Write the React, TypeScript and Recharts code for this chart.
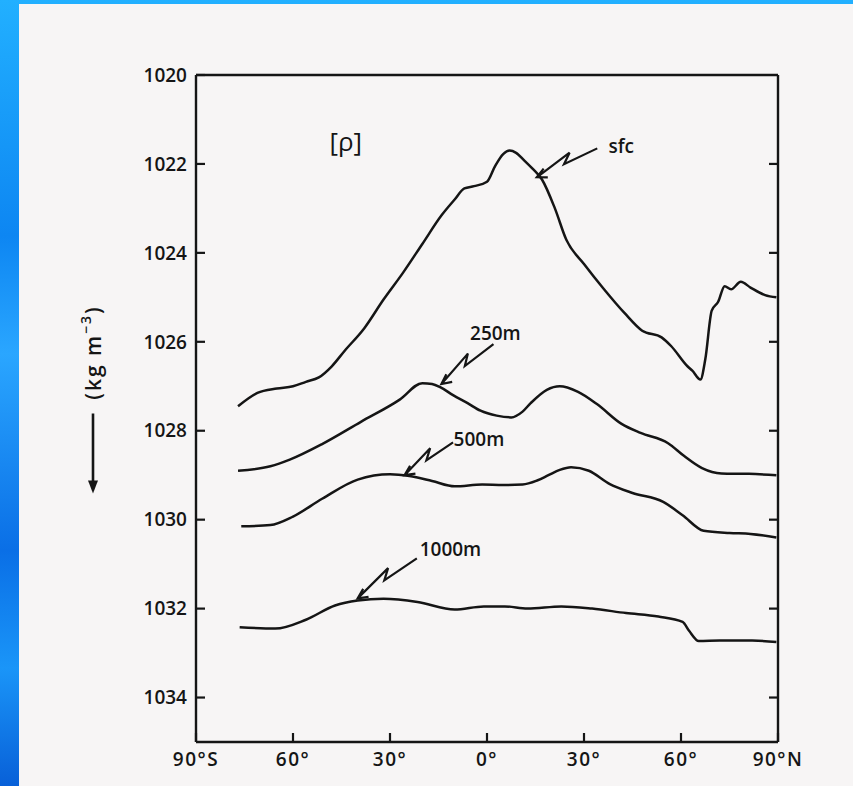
import React from "react";
import {
  LineChart,
  Line,
  XAxis,
  YAxis,
  ReferenceDot,
  ReferenceLine,
  Label,
} from "recharts";

// zonal-mean density [rho] (kg m^-3) against latitude
const sfcLat = [-77, -71, -65, -60, -56, -52, -48, -44, -38, -32, -26, -20, -14, -10, -7, -4, 0, 2.5, 5, 7, 9, 11.5, 14, 17, 21, 24.5, 30, 36, 42.5, 48, 54, 57, 62, 63.5, 66, 67.5, 69.5, 71.5, 73.5, 75.5, 78.5, 81.5, 86, 89.5];
const sfcRho = [1027.45, 1027.15, 1027.05, 1027.0, 1026.9, 1026.8, 1026.55, 1026.2, 1025.7, 1025.05, 1024.45, 1023.8, 1023.15, 1022.8, 1022.55, 1022.5, 1022.4, 1022.05, 1021.78, 1021.7, 1021.75, 1021.92, 1022.1, 1022.35, 1023.0, 1023.7, 1024.25, 1024.8, 1025.35, 1025.75, 1025.9, 1026.1, 1026.55, 1026.65, 1026.85, 1026.4, 1025.3, 1025.1, 1024.75, 1024.82, 1024.65, 1024.78, 1024.95, 1025.0];

const m250Lat = [-77, -67, -61, -51, -39, -27, -20, -17, -14.5, -10.5, -6, -2, 3, 7.5, 11, 13.5, 18.5, 22.5, 28, 34, 41.5, 47.5, 56, 61, 66.5, 72.5, 81, 89.5];
const m250Rho = [1028.9, 1028.8, 1028.65, 1028.3, 1027.8, 1027.3, 1026.93, 1026.95, 1027.02, 1027.2, 1027.38, 1027.55, 1027.66, 1027.7, 1027.57, 1027.38, 1027.08, 1027.0, 1027.12, 1027.4, 1027.84, 1028.05, 1028.28, 1028.57, 1028.84, 1028.96, 1028.97, 1029.0];

const m500Lat = [-76, -67, -60, -51, -40, -30, -24, -17, -10, -1.5, 5, 11, 15.5, 19, 22.5, 26, 31.5, 38, 45, 54.5, 60.5, 67, 75, 81.5, 89.5];
const m500Rho = [1030.15, 1030.12, 1029.93, 1029.53, 1029.1, 1028.98, 1029.02, 1029.13, 1029.25, 1029.21, 1029.22, 1029.21, 1029.12, 1029.0, 1028.88, 1028.82, 1028.9, 1029.2, 1029.4, 1029.6, 1029.9, 1030.25, 1030.3, 1030.32, 1030.4];

const m1000Lat = [-76.5, -65.5, -56, -47, -40, -32, -21.5, -10, -1, 5.5, 12.5, 23, 32.5, 43, 53, 60.5, 62.5, 65.5, 72, 82, 89.5];
const m1000Rho = [1032.42, 1032.45, 1032.25, 1031.93, 1031.82, 1031.78, 1031.85, 1032.02, 1031.95, 1031.95, 1032.0, 1031.95, 1032.0, 1032.1, 1032.18, 1032.3, 1032.5, 1032.73, 1032.72, 1032.72, 1032.75];

const latTicks = [-90, -60, -30, 0, 30, 60, 90];
const latTickLabels = ["90°S", "60°", "30°", "0°", "30°", "60°", "90°N"];
const topTicks = [-60, -30, 0, 30, 60];
const rhoTicks = [1020, 1022, 1024, 1026, 1028, 1030, 1032, 1034];
const rightTicks = [1022, 1024, 1026, 1028, 1030, 1032, 1034];

// curve labels: text centre, arrow tail, arrow tip (lat, rho)
const labelNames = ["sfc", "250m", "500m", "1000m"];
const labelLat = [41.5, 2.6, -2.5, -11.3];
const labelRho = [1021.6, 1025.8, 1028.2, 1030.67];
const tailLat = [34.1, 2.0, -10.5, -21.7];
const tailRho = [1021.65, 1026.05, 1028.26, 1030.87];
const tipLat = [15.4, -14.1, -25.5, -40.0];
const tipRho = [1022.3, 1026.95, 1029.0, 1031.77];

const FONT = "'Open Sans', 'DejaVu Sans', sans-serif";
const INK = "#151515";

const toRows = (lat: number[], rho: number[]) =>
  lat.map((x, i) => ({ lat: x, rho: rho[i] }));

const series = [
  { name: "sfc", data: toRows(sfcLat, sfcRho) },
  { name: "250m", data: toRows(m250Lat, m250Rho) },
  { name: "500m", data: toRows(m500Lat, m500Rho) },
  { name: "1000m", data: toRows(m1000Lat, m1000Rho) },
];

// lightning-style arrow from tail (x1,y1) to tip (x2,y2)
function ZigArrow(props: any) {
  const { x1, y1, x2, y2 } = props;
  if (x1 == null || x2 == null) return null;
  const dx = x2 - x1;
  const dy = y2 - y1;
  const len = Math.hypot(dx, dy);
  const ux = dx / len;
  const uy = dy / len;
  const nx = -uy;
  const ny = ux;
  const ax = x1 + ux * len * 0.55;
  const ay = y1 + uy * len * 0.55;
  const bx = ax - ux * 10 + nx * 8;
  const by = ay - uy * 10 + ny * 8;
  const ang = 0.45;
  const h = 11;
  const c = Math.cos(ang);
  const s = Math.sin(ang);
  const h1x = x2 - h * (ux * c - uy * s);
  const h1y = y2 - h * (uy * c + ux * s);
  const h2x = x2 - h * (ux * c + uy * s);
  const h2y = y2 - h * (uy * c - ux * s);
  return (
    <path
      d={`M${x1},${y1}L${ax},${ay}L${bx},${by}L${x2},${y2}M${h1x},${h1y}L${x2},${y2}L${h2x},${h2y}`}
      fill="none"
      stroke={INK}
      strokeWidth={2.2}
      strokeLinejoin="miter"
    />
  );
}

function YUnitLabel(props: any) {
  const vb = props.viewBox || { x: 136, y: 75, width: 60, height: 667 };
  const x = vb.x - 43;
  const cy = vb.y + vb.height / 2;
  const ty = cy - 56;
  return (
    <g>
      <text
        x={x}
        y={ty}
        transform={`rotate(-90, ${x}, ${ty})`}
        textAnchor="middle"
        dominantBaseline="central"
        fontFamily={FONT}
        fontSize={21}
        fontWeight={600}
        letterSpacing={2}
        fill={INK}
      >
        (kg m
        <tspan dy={-8} fontSize={14}>
          −3
        </tspan>
        <tspan dy={8}>)</tspan>
      </text>
      <line x1={x} y1={cy + 5} x2={x} y2={cy + 74} stroke={INK} strokeWidth={2.6} />
      <path d={`M${x - 5},${cy + 72}L${x},${cy + 85}L${x + 5},${cy + 72}Z`} fill={INK} />
    </g>
  );
}

const tickText = { fill: INK, fontSize: 19, fontFamily: FONT, fontWeight: 600 };
const blank = () => "";

export default function App() {
  return (
    <div
      style={{
        position: "absolute",
        left: 0,
        top: 0,
        width: 853,
        height: 786,
        overflow: "hidden",
        background:
          "linear-gradient(180deg, #22b0ff 0%, #0d86f2 30%, #2aa6ff 45%, #0a6fe6 70%, #1a95f8 85%, #0860d8 100%)",
      }}
    >
      <div
        style={{
          position: "absolute",
          left: 19,
          top: 4,
          right: 0,
          bottom: 0,
          background: "#f7f5f5",
        }}
      />
      <div style={{ position: "absolute", left: 0, top: 0 }}>
        <LineChart
          width={853}
          height={786}
          margin={{ top: 65, right: 65, bottom: 4, left: 136 }}
        >
          <XAxis
            xAxisId="b"
            dataKey="lat"
            type="number"
            domain={[-90, 90]}
            allowDataOverflow
            ticks={latTicks}
            tickFormatter={(v: number) => latTickLabels[latTicks.indexOf(v)]}
            height={40}
            tickSize={-9}
            tickMargin={20}
            axisLine={{ stroke: INK, strokeWidth: 2.4 }}
            tickLine={{ stroke: INK, strokeWidth: 2.2 }}
            tick={{ ...tickText, letterSpacing: 1.5 }}
            fontSize={19}
            interval={0}
          />
          <XAxis
            xAxisId="t"
            orientation="top"
            type="number"
            domain={[-90, 90]}
            allowDataOverflow
            ticks={topTicks}
            tickFormatter={blank}
            tick={{ fontSize: 1 }}
            height={10}
            tickSize={-9}
            tickMargin={0}
            axisLine={{ stroke: INK, strokeWidth: 2.4 }}
            tickLine={{ stroke: INK, strokeWidth: 2.2 }}
            interval={0}
          />
          <YAxis
            yAxisId="l"
            type="number"
            domain={[1020, 1035]}
            reversed
            allowDataOverflow
            ticks={rhoTicks}
            width={60}
            tickSize={-9}
            tickMargin={18}
            axisLine={{ stroke: INK, strokeWidth: 2.4 }}
            tickLine={{ stroke: INK, strokeWidth: 2.2 }}
            tick={tickText}
            fontSize={19}
            interval={0}
            label={<Label content={YUnitLabel} />}
          />
          <YAxis
            yAxisId="r"
            orientation="right"
            type="number"
            domain={[1020, 1035]}
            reversed
            allowDataOverflow
            ticks={rightTicks}
            tickFormatter={blank}
            tick={{ fontSize: 1 }}
            width={10}
            tickSize={-9}
            tickMargin={0}
            axisLine={{ stroke: INK, strokeWidth: 2.4 }}
            tickLine={{ stroke: INK, strokeWidth: 2.2 }}
            interval={0}
          />
          {series.map((s) => (
            <Line
              key={s.name}
              xAxisId="b"
              yAxisId="l"
              data={s.data}
              dataKey="rho"
              type="monotone"
              stroke={INK}
              strokeWidth={2.5}
              dot={false}
              isAnimationActive={false}
            />
          ))}
          <ReferenceDot
            xAxisId="b"
            yAxisId="l"
            x={-43.7}
            y={1021.5}
            r={0}
            fill="none"
            stroke="none"
            label={{ value: "[ρ]", position: "center", fontSize: 26, fill: INK, fontFamily: FONT }}
          />
          {labelNames.map((name, i) => (
            <ReferenceDot
              key={"t" + name}
              xAxisId="b"
              yAxisId="l"
              x={labelLat[i]}
              y={labelRho[i]}
              r={0}
              fill="none"
              stroke="none"
              label={{ value: name, position: "center", fontSize: 19, fontWeight: 600, fill: INK, fontFamily: FONT }}
            />
          ))}
          {labelNames.map((name, i) => (
            <ReferenceLine
              key={"a" + name}
              xAxisId="b"
              yAxisId="l"
              segment={[
                { x: tailLat[i], y: tailRho[i] },
                { x: tipLat[i], y: tipRho[i] },
              ]}
              shape={ZigArrow}
            />
          ))}
        </LineChart>
      </div>
    </div>
  );
}
